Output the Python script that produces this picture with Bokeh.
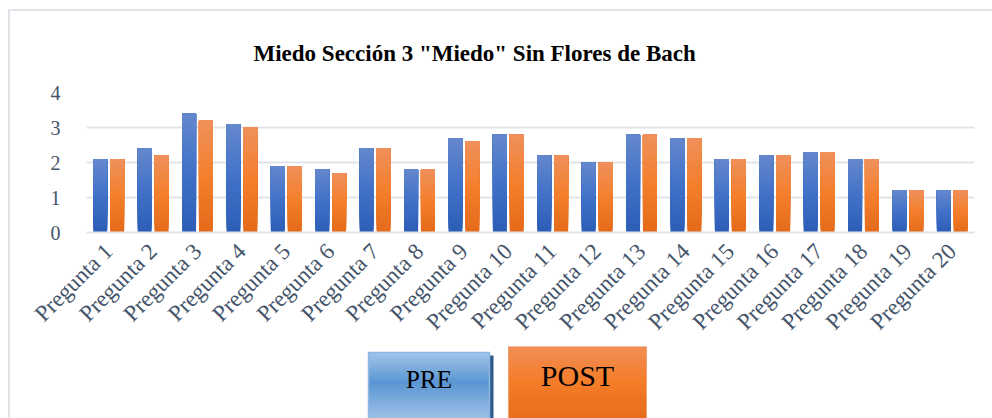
import math
from bokeh.plotting import figure
from bokeh.models import FactorRange, Range1d, FixedTicker
from bokeh.transform import dodge
from bokeh.layouts import column, row
from bokeh.core.properties import value
from bokeh.embed import file_html
from bokeh.resources import INLINE

categories = [f"Pregunta {i}" for i in range(1, 21)]
pre = [2.1, 2.4, 3.4, 3.1, 1.9, 1.8, 2.4, 1.8, 2.7, 2.8,
       2.2, 2.0, 2.8, 2.7, 2.1, 2.2, 2.3, 2.1, 1.2, 1.2]
post = [2.1, 2.2, 3.2, 3.0, 1.9, 1.7, 2.4, 1.8, 2.6, 2.8,
        2.2, 2.0, 2.8, 2.7, 2.1, 2.2, 2.3, 2.1, 1.2, 1.2]
y_ticks = [0, 1, 2, 3, 4]
title_text = 'Miedo Sección 3 "Miedo" Sin Flores de Bach'
legend_labels = ["PRE", "POST"]

FONT = "Liberation Serif"
BORDER = "#d6dae0"


def hex2rgb(h):
    h = h.lstrip("#")
    return tuple(int(h[i:i + 2], 16) for i in (0, 2, 4))


def rgb2hex(c):
    return "#%02x%02x%02x" % tuple(int(round(v)) for v in c)


def grad(stops, t):
    for (p0, c0), (p1, c1) in zip(stops[:-1], stops[1:]):
        if p0 <= t <= p1:
            f = (t - p0) / (p1 - p0) if p1 > p0 else 0
            a, b = hex2rgb(c0), hex2rgb(c1)
            return rgb2hex([a[i] + (b[i] - a[i]) * f for i in range(3)])
    return stops[-1][1]


def blank(width, height, x0, x1, y0, y1):
    f = figure(x_range=Range1d(x0, x1), y_range=Range1d(y1, y0),
               width=width, height=height, output_backend="svg",
               toolbar_location=None, x_axis_location=None,
               y_axis_location=None, min_border=0, min_border_left=0,
               min_border_right=0, min_border_top=0, min_border_bottom=0)
    f.grid.visible = False
    f.outline_line_color = None
    f.border_fill_color = "white"
    f.background_fill_color = "white"
    return f


blue_stops = [(0.0, "#2c5db6"), (0.5, "#4271c8"), (1.0, "#6488cc")]
orange_stops = [(0.0, "#e36a1a"), (0.5, "#f47f2c"), (1.0, "#ef905c")]

PAGE_W, PAGE_H = 992, 418
SW = 10            # left strip width
MW = PAGE_W - SW   # main column width
HH = 80            # header height
H1 = 266           # chart height
H2 = PAGE_H - HH - H1

# left strip (outer chart border, left side)
strip = blank(SW, PAGE_H, 0, SW, 0, PAGE_H)
strip.segment(x0=[8.5], y0=[9], x1=[8.5], y1=[PAGE_H], line_color=BORDER, line_width=1.5)
strip.segment(x0=[8], y0=[9.5], x1=[SW], y1=[9.5], line_color=BORDER, line_width=1.5)

# header with title (outer chart border, top side)
header = blank(MW, HH, SW, PAGE_W, 0, HH)
header.segment(x0=[SW], y0=[9.5], x1=[PAGE_W], y1=[9.5], line_color=BORDER, line_width=1.5)
header.text(x=[253], y=[53], text=[title_text], text_font=value(FONT),
            text_font_size="23px", text_font_style="bold", text_color="black",
            text_align="left", text_baseline="alphabetic")

# main chart
p = figure(x_range=FactorRange(factors=categories, range_padding=0),
           y_range=Range1d(0, 4),
           width=MW, height=H1, output_backend="svg", toolbar_location=None,
           min_border_left=86 - SW, min_border_right=18, min_border_top=12,
           min_border_bottom=113)
p.outline_line_color = None
p.background_fill_color = "white"
p.border_fill_color = "white"

N = 24
for series, stops, off in ((pre, blue_stops, -0.19), (post, orange_stops, 0.19)):
    for k in range(N):
        f0 = k / N
        col = grad(stops, (k + 0.5) / N)
        p.vbar(x=dodge("cat", off, range=p.x_range), width=0.315,
               bottom="b", top="t",
               source={"cat": categories,
                       "b": [v * f0 for v in series],
                       "t": list(series)},
               fill_color=col, line_color=None)

p.ygrid.grid_line_color = "#e1e4ea"
p.ygrid.grid_line_width = 2
p.xgrid.grid_line_color = None
p.yaxis.ticker = FixedTicker(ticks=y_ticks)
p.yaxis.axis_line_color = None
p.yaxis.major_tick_line_color = None
p.yaxis.minor_tick_line_color = None
p.yaxis.major_label_text_font = FONT
p.yaxis.major_label_text_font_size = "20px"
p.yaxis.major_label_text_color = "#44546a"
p.yaxis.major_label_standoff = 20

p.xaxis.axis_line_color = "#e1e4ea"
p.xaxis.axis_line_width = 2
p.xaxis.major_tick_line_color = None
p.xaxis.minor_tick_line_color = None
p.xaxis.major_label_orientation = math.pi / 4
p.xaxis.major_label_text_font = FONT
p.xaxis.major_label_text_font_size = "23px"
p.xaxis.major_label_text_color = "#44546a"
p.xaxis.major_label_standoff = 9

# legend strip
q = blank(MW, H2, SW, PAGE_W, 0, H2)
pre_box = dict(l=368, r=489, t=6, b=H2 + 1)
post_box = dict(l=508, r=646, t=0, b=H2)
pre_leg_stops = [(0.0, "#a2c4e8"), (0.45, "#5a96d3"), (1.0, "#9fc2e6")]
post_leg_stops = [(0.0, "#f08e56"), (0.5, "#f47c28"), (1.0, "#e66e1c")]
M = 30
q.quad(left=[pre_box["r"]], right=[pre_box["r"] + 4], top=[pre_box["t"] + 3],
       bottom=[pre_box["b"]], fill_color="#2e5b8a", line_color=None)
for box, stops in ((pre_box, pre_leg_stops), (post_box, post_leg_stops)):
    for k in range(M):
        t0 = box["t"] + (box["b"] - box["t"]) * k / M
        col = grad(stops, (k + 0.5) / M)
        q.quad(left=[box["l"]], right=[box["r"]], top=[t0], bottom=[box["b"]],
               fill_color=col, line_color=None)
q.quad(left=[pre_box["l"]], right=[pre_box["r"]], top=[pre_box["t"]],
       bottom=[pre_box["b"]], fill_alpha=0, line_color="#8db7e2", line_width=1.5)
q.quad(left=[post_box["l"]], right=[post_box["r"]], top=[post_box["t"]],
       bottom=[post_box["b"]], fill_alpha=0, line_color="#f2a070", line_width=1)
q.text(x=[(pre_box["l"] + pre_box["r"]) / 2], y=[32.5], text=[legend_labels[0]],
       text_font=value(FONT), text_font_size="25px", text_color="black",
       text_align="center", text_baseline="middle")
q.text(x=[(post_box["l"] + post_box["r"]) / 2], y=[29], text=[legend_labels[1]],
       text_font=value(FONT), text_font_size="30px", text_color="black",
       text_align="center", text_baseline="middle")

main = column(row(header, spacing=0), row(p, spacing=0), row(q, spacing=0), spacing=0)
layout = row(strip, main, spacing=0)
open("out.html", "w").write(file_html(layout, INLINE))
